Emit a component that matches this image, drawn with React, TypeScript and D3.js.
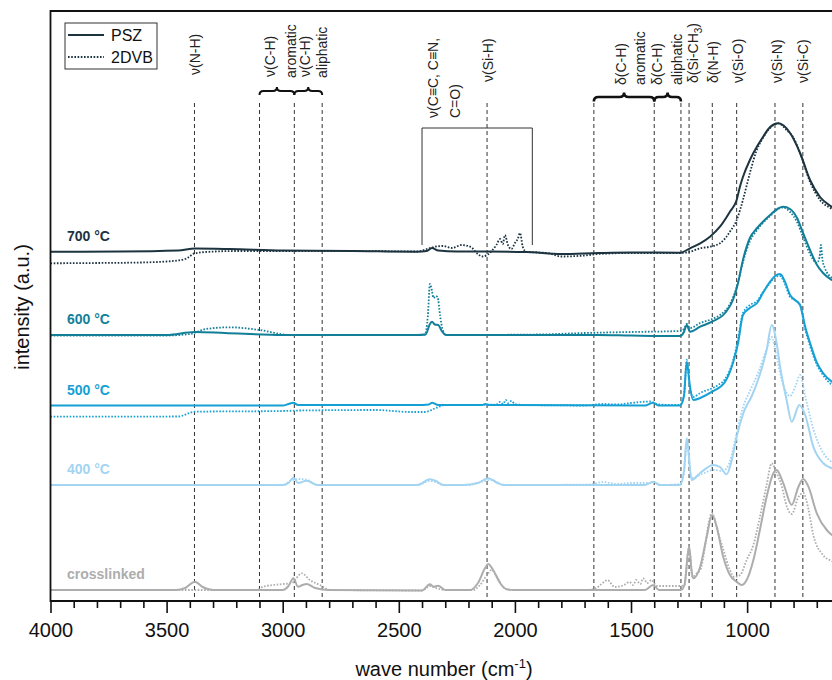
import React, { useEffect, useRef } from "react";
import * as d3 from "d3";

type Pt = [number, number];

const FONT = "'Liberation Sans', Arial, Helvetica, sans-serif";

// spectra: [wave number (cm-1), intensity (a.u., stacking offset included)]
const psz700: Pt[] = [
  [4000, 349.3], [3700, 349.5], [3450, 350.5], [3378, 352.5], [3230, 352], [3000, 350.5], [2700, 350],
  [2420, 349.3], [2380, 350], [2357, 353], [2330, 350.5], [2250, 349.5], [2120, 349.5], [1950, 349],
  [1800, 347], [1640, 348], [1500, 348.5], [1290, 348.3], [1246, 352.7], [1202, 357.7], [1160, 364.3],
  [1117, 374.3], [1074, 389.3], [1045, 401], [1031, 414.3], [1018, 424], [988, 441], [973, 448],
  [932, 464], [901, 474], [866, 477.7], [815, 468], [772, 448], [729, 421], [686, 404], [635, 394], [600, 388],
];
const dvb700: Pt[] = [
  [4000, 337.7], [3800, 338], [3658, 338.3], [3500, 339.5], [3420, 342], [3378, 347.7], [3310, 349.3],
  [3200, 350], [3000, 350], [2700, 350], [2420, 349.5], [2380, 352], [2350, 354], [2310, 355], [2270, 353],
  [2230, 356], [2190, 354], [2160, 347], [2140, 344.5], [2120, 346], [2100, 350], [2080, 356], [2064, 362],
  [2052, 357], [2043, 366], [2030, 356], [2015, 352], [2000, 358], [1988, 362], [1978, 368], [1966, 354],
  [1950, 349], [1860, 348], [1800, 344.5], [1700, 345.5], [1640, 347], [1500, 348], [1290, 348],
  [1246, 349.3], [1202, 352.7], [1160, 354.3], [1117, 357.7], [1074, 369.3], [1045, 381], [1018, 401],
  [988, 428], [960, 450], [932, 463], [901, 473], [866, 477.7], [830, 471], [802, 464], [772, 448],
  [729, 419], [686, 401], [635, 392], [600, 387],
];
const psz600: Pt[] = [
  [4000, 266], [3500, 266], [3378, 269], [3250, 268], [3000, 266], [2420, 266], [2385, 266.5], [2366, 277],
  [2357, 279.3], [2345, 276.5], [2330, 276], [2315, 270], [2297, 266], [1640, 266], [1500, 265.5],
  [1290, 265], [1272, 269], [1260, 276], [1246, 269.3], [1202, 274.3], [1151, 279.3], [1095, 288],
  [1061, 301], [1039, 318], [1018, 341], [988, 363], [957, 373], [932, 379.3], [901, 386], [866, 392.7],
  [845, 394.3], [815, 392], [785, 383], [759, 368], [729, 351], [699, 336], [673, 328], [635, 321], [600, 316],
];
const dvb600: Pt[] = [
  [4000, 265.5], [3500, 265.5], [3400, 267], [3330, 272], [3227, 273.7], [3100, 271], [2968, 266],
  [2420, 266], [2388, 266.5], [2375, 285], [2366, 317], [2357, 310], [2351, 303], [2340, 305], [2333, 304],
  [2322, 285], [2312, 272], [2297, 266], [1900, 266.5], [1700, 268], [1500, 269], [1290, 270], [1272, 272],
  [1260, 277], [1246, 273], [1202, 278], [1151, 282], [1117, 286], [1074, 297], [1045, 314], [1018, 339],
  [988, 360], [957, 371], [932, 378], [901, 385], [866, 392], [845, 393.5], [815, 389], [785, 379],
  [759, 364], [729, 347], [700, 338], [688, 344], [682, 356], [676, 342], [665, 333], [635, 323], [600, 319],
];
const psz500: Pt[] = [
  [4000, 195.5], [3000, 195.5], [2975, 197], [2954, 198.3], [2934, 196], [2420, 196], [2370, 196.5],
  [2357, 198.3], [2330, 196], [2140, 196], [2129, 197], [2110, 196], [1440, 195.5], [1405, 198.3],
  [1380, 195.5], [1289, 195.5], [1272, 205], [1260, 239.3], [1246, 214.3], [1232, 201], [1202, 203],
  [1151, 209.3], [1095, 219.3], [1061, 238], [1039, 258], [1018, 286], [988, 293], [957, 298], [932, 308],
  [901, 319.3], [880, 325], [858, 327], [837, 319.3], [815, 306], [794, 301], [772, 296], [750, 274.3],
  [729, 258], [699, 238], [673, 228], [635, 219.3], [600, 215],
];
const dvb500: Pt[] = [
  [4000, 184.3], [3450, 184.5], [3378, 189.3], [3000, 190], [2926, 190.5], [2600, 191], [2450, 189],
  [2388, 189], [2340, 193], [2301, 196], [2200, 196], [2080, 196.5], [2064, 199], [2050, 197], [2040, 201],
  [2030, 198], [2015, 200], [2000, 197], [1960, 196], [1700, 195.5], [1620, 197], [1560, 196.5],
  [1500, 198], [1420, 199.5], [1380, 196.5], [1289, 196], [1272, 206], [1260, 241], [1246, 212],
  [1232, 204], [1202, 208], [1125, 216], [1095, 222], [1061, 240], [1039, 262], [1018, 288], [988, 296],
  [957, 300], [932, 309], [901, 318], [880, 324], [858, 325], [837, 317], [815, 304], [794, 301],
  [772, 296], [750, 272], [729, 255], [699, 236], [673, 226], [635, 216], [600, 212],
];
const psz400: Pt[] = [
  [4000, 116], [3000, 116], [2975, 118], [2954, 123.3], [2934, 118], [2897, 120.3], [2850, 116],
  [2420, 116], [2366, 121.7], [2340, 120], [2310, 116], [2224, 116], [2160, 118], [2115, 122.7],
  [2075, 118], [2051, 116], [1440, 116], [1405, 119.3], [1375, 116], [1289, 116], [1272, 130],
  [1260, 162.7], [1239, 121], [1202, 128], [1146, 136], [1117, 134], [1088, 126.7], [1066, 141],
  [1045, 164.3], [1016, 188], [980, 205], [953, 221], [916, 251], [894, 276], [873, 258], [858, 234.3],
  [830, 201], [808, 179.3], [775, 196], [750, 186], [715, 154.3], [672, 137.7], [635, 132.7], [600, 130],
];
const dvb400: Pt[] = [
  [4000, 116], [3000, 116], [2961, 121], [2926, 122], [2897, 121.3], [2850, 116], [2420, 116],
  [2366, 120], [2330, 118], [2300, 116], [2200, 116], [2130, 120], [2100, 121], [2060, 117], [2021, 116],
  [1680, 116.5], [1620, 119], [1560, 117], [1500, 118], [1420, 118], [1405, 119], [1375, 116],
  [1289, 117], [1272, 128], [1260, 156], [1239, 123], [1202, 126], [1146, 131], [1103, 130], [1074, 140],
  [1045, 168], [1016, 195], [988, 210], [953, 228], [916, 252], [894, 264], [873, 244], [851, 221],
  [815, 205], [790, 216], [772, 226], [750, 205], [715, 172], [672, 148], [635, 139], [600, 135],
];
const pszCross: Pt[] = [
  [4000, 11], [3460, 11], [3420, 13], [3378, 19.3], [3345, 14], [3300, 11], [3000, 11], [2975, 15],
  [2954, 22.7], [2934, 14.3], [2915, 16], [2897, 17], [2860, 13], [2800, 11], [2400, 10.5], [2366, 16.7],
  [2350, 14.3], [2331, 15.3], [2300, 11], [2193, 11], [2159, 18], [2129, 32.7], [2115, 37], [2094, 31],
  [2064, 18], [2035, 11.7], [2000, 11], [1440, 11], [1405, 16], [1380, 11], [1285, 11], [1270, 16],
  [1250, 54.3], [1238, 28], [1232, 22.7], [1202, 34.3], [1174, 64.3], [1151, 86], [1131, 74.3],
  [1103, 44.3], [1074, 26], [1045, 19.3], [1023, 16], [1002, 21], [973, 41], [945, 71], [916, 104.3],
  [887, 127.7], [873, 131], [844, 117.7], [808, 96], [779, 114.3], [758, 122], [736, 114.3], [700, 87.7],
  [657, 71], [635, 66], [600, 62],
];
const dvbCross: Pt[] = [
  [4000, 11], [3110, 11], [3085, 14.3], [3012, 16.7], [2961, 18], [2918, 27.7], [2883, 21], [2840, 16],
  [2796, 11], [2400, 10.5], [2366, 15], [2340, 13], [2300, 11], [2180, 11], [2150, 16], [2120, 26],
  [2100, 31], [2077, 24], [2051, 14], [2021, 11], [1690, 11], [1650, 13], [1601, 20.7], [1570, 14],
  [1530, 16], [1507, 19], [1490, 16], [1478, 21], [1460, 17], [1448, 22.7], [1430, 18], [1411, 21],
  [1390, 15], [1289, 15], [1270, 16], [1250, 54.3], [1235, 24], [1215, 28], [1202, 31], [1151, 88],
  [1125, 68], [1103, 52], [1074, 31], [1055, 24], [1030, 26], [1002, 41], [973, 56], [945, 84],
  [916, 116], [894, 137.7], [873, 128], [851, 115], [830, 95], [808, 87], [779, 104], [758, 108],
  [736, 92], [715, 66], [673, 46], [635, 40], [600, 37],
];

const stackLabels = ["700 °C", "600 °C", "500 °C", "400 °C", "crosslinked"];
const stackColors = ["#1c3340", "#127f99", "#14a0d4", "#a3d4f2", "#adadad"];
const pszSeries = [psz700, psz600, psz500, psz400, pszCross];
const dvbSeries = [dvb700, dvb600, dvb500, dvb400, dvbCross];

// band assignments (wave number of the dashed guide lines)
const bandLines = [3380, 3100, 2950, 2830, 2120, 1660, 1400, 1285, 1250, 1150, 1045, 880, 760];
const boxBand = [2400, 1925];
const braceBands: [number, number, string][] = [
  [3100, 2950, "CH stretch"], [2950, 2830, "CH stretch"], [1660, 1400, "CH bend"], [1400, 1285, "CH bend"],
];
// [label, wave number, lower end of the text (px)]
const bandNames: [string, number, number][] = [
  ["ν(N-H)", 3376, 75], ["ν(C-H)", 3053, 77], ["aromatic", 2966, 78], ["ν(C-H)", 2902, 77],
  ["aliphatic", 2829, 78], ["ν(C≡C, C≡N,", 2351, 118], ["C=O)", 2260, 118], ["ν(Si-H)", 2114, 82],
  ["δ(C-H)", 1541, 85], ["aromatic", 1463, 85], ["δ(C-H)", 1386, 85], ["aliphatic", 1300, 85],
  ["δ(Si-CH3)", 1231, 83], ["δ(N-H)", 1149, 83], ["ν(Si-O)", 1041, 83], ["ν(Si-N)", 873, 83],
  ["ν(Si-C)", 761, 83],
];

const majorTicks = [4000, 3500, 3000, 2500, 2000, 1500, 1000];

const W = 832;
const H = 680;

export default function App() {
  const ref = useRef<SVGSVGElement>(null);

  useEffect(() => {
    const svg = d3.select(ref.current);
    svg.selectAll("*").remove();

    const left = 50.5, top = 11, bottom = 601;
    const x = d3.scaleLinear().domain([4000, 600]).range([left, 840]);
    const y = d3.scaleLinear().domain([0, 590]).range([bottom, top]);

    svg.append("rect").attr("width", W).attr("height", H).attr("fill", "#fff");

    svg.append("clipPath").attr("id", "plot-clip")
      .append("rect").attr("x", left).attr("y", top).attr("width", 840 - left).attr("height", bottom - top);

    // dashed guides for band assignments
    svg.append("g").selectAll("line").data(bandLines).join("line")
      .attr("x1", (d) => x(d)).attr("x2", (d) => x(d))
      .attr("y1", 103).attr("y2", bottom)
      .attr("stroke", "#333").attr("stroke-width", 1).attr("stroke-dasharray", "4 3");

    // box grouping the triple bond region
    svg.append("path")
      .attr("d", `M${x(boxBand[0])},245 V128 H${x(boxBand[1])} V245`)
      .attr("fill", "none").attr("stroke", "#333").attr("stroke-width", 1);

    // curly braces
    const brace = (x1: number, x2: number, yb: number, h: number) => {
      const m = (x1 + x2) / 2;
      return `M${x1},${yb + h} Q${x1},${yb} ${x1 + h},${yb} L${m - h},${yb} Q${m},${yb} ${m},${yb - h} ` +
        `Q${m},${yb} ${m + h},${yb} L${x2 - h},${yb} Q${x2},${yb} ${x2},${yb + h}`;
    };
    svg.append("g").selectAll("path").data(braceBands).join("path")
      .attr("d", (d) => (d[2] === "CH stretch"
        ? brace(x(d[0]), x(d[1]), 91, 4)
        : brace(x(d[0]), x(d[1]), 97, 4.5)))
      .attr("fill", "none").attr("stroke", "#111")
      .attr("stroke-width", (d) => (d[2] === "CH stretch" ? 2 : 2.6));

    // band labels, rotated
    const names = svg.append("g").attr("font-family", FONT).attr("font-size", 14).attr("fill", "#222");
    bandNames.forEach(([label, wn, yb]) => {
      const t = names.append("text")
        .attr("transform", `translate(${x(wn) + 5},${yb}) rotate(-90)`)
        .attr("text-anchor", "start");
      if (label.includes("CH3")) {
        t.append("tspan").text(label.replace("CH3)", "CH"));
        t.append("tspan").attr("font-size", 10).attr("dy", 4).text("3");
        t.append("tspan").attr("dy", -4).text(")");
      } else {
        t.text(label);
      }
    });

    // spectra
    const line = d3.line<Pt>().x((d) => x(d[0])).y((d) => y(d[1])).curve(d3.curveMonotoneX);
    const plot = svg.append("g").attr("clip-path", "url(#plot-clip)");
    stackLabels.forEach((_, i) => {
      plot.append("path").datum(dvbSeries[i]).attr("d", line)
        .attr("fill", "none").attr("stroke", stackColors[i]).attr("stroke-width", 1.8)
        .attr("stroke-dasharray", "1.6 1.6");
      plot.append("path").datum(pszSeries[i]).attr("d", line)
        .attr("fill", "none").attr("stroke", stackColors[i]).attr("stroke-width", 2)
        .attr("stroke-linejoin", "round");
    });

    // stack labels
    svg.append("g").selectAll("text").data(stackLabels).join("text")
      .attr("x", 67).attr("y", (_, i) => y(pszSeries[i][0][1]) - 11)
      .attr("font-family", FONT).attr("font-size", 14).attr("font-weight", "bold")
      .attr("fill", (_, i) => stackColors[i]).text((d) => d);

    // frame
    svg.append("path")
      .attr("d", `M832,${top} H${left} V${bottom} H832`)
      .attr("fill", "none").attr("stroke", "#111").attr("stroke-width", 1.8);

    // x axis
    const tickValues = d3.range(4000, 599, -100);
    const xAxis = d3.axisBottom(x).tickValues(tickValues).tickSizeOuter(0)
      .tickFormat((d) => (majorTicks.includes(+d) ? String(d) : ""));
    const gx = svg.append("g").attr("transform", `translate(0,${bottom})`).call(xAxis);
    gx.select(".domain").remove();
    gx.selectAll<SVGLineElement, number>(".tick line")
      .attr("y2", (d) => (d % 500 === 0 ? 12 : 7)).attr("stroke", "#111").attr("stroke-width", 1.6);
    gx.selectAll(".tick text")
      .attr("y", 22).attr("font-family", FONT).attr("font-size", 20).attr("fill", "#111");

    // axis titles
    const xt = svg.append("text").attr("x", 444).attr("y", 676).attr("text-anchor", "middle")
      .attr("font-family", FONT).attr("font-size", 20).attr("fill", "#111");
    xt.append("tspan").text("wave number (cm");
    xt.append("tspan").attr("font-size", 13).attr("dy", -8).text("-1");
    xt.append("tspan").attr("dy", 8).text(")");

    svg.append("text").attr("transform", "translate(29,307) rotate(-90)").attr("text-anchor", "middle")
      .attr("font-family", FONT).attr("font-size", 20).attr("fill", "#111").text("intensity (a.u.)");

    // legend
    const lg = svg.append("g");
    lg.append("rect").attr("x", 65).attr("y", 23).attr("width", 92).attr("height", 46)
      .attr("fill", "#fff").attr("stroke", "#333").attr("stroke-width", 1);
    lg.append("line").attr("x1", 68).attr("x2", 104).attr("y1", 35).attr("y2", 35)
      .attr("stroke", stackColors[0]).attr("stroke-width", 2);
    lg.append("line").attr("x1", 68).attr("x2", 104).attr("y1", 57).attr("y2", 57)
      .attr("stroke", stackColors[0]).attr("stroke-width", 1.8).attr("stroke-dasharray", "1.6 1.6");
    lg.selectAll("text").data(["PSZ", "2DVB"]).join("text")
      .attr("x", 111).attr("y", (_, i) => (i === 0 ? 41 : 63))
      .attr("font-family", FONT).attr("font-size", 16).attr("fill", "#111").text((d) => d);
  }, []);

  return (
    <div style={{ position: "absolute", left: 0, top: 0 }}>
      <svg ref={ref} width={W} height={H} style={{ display: "block" }} />
    </div>
  );
}
